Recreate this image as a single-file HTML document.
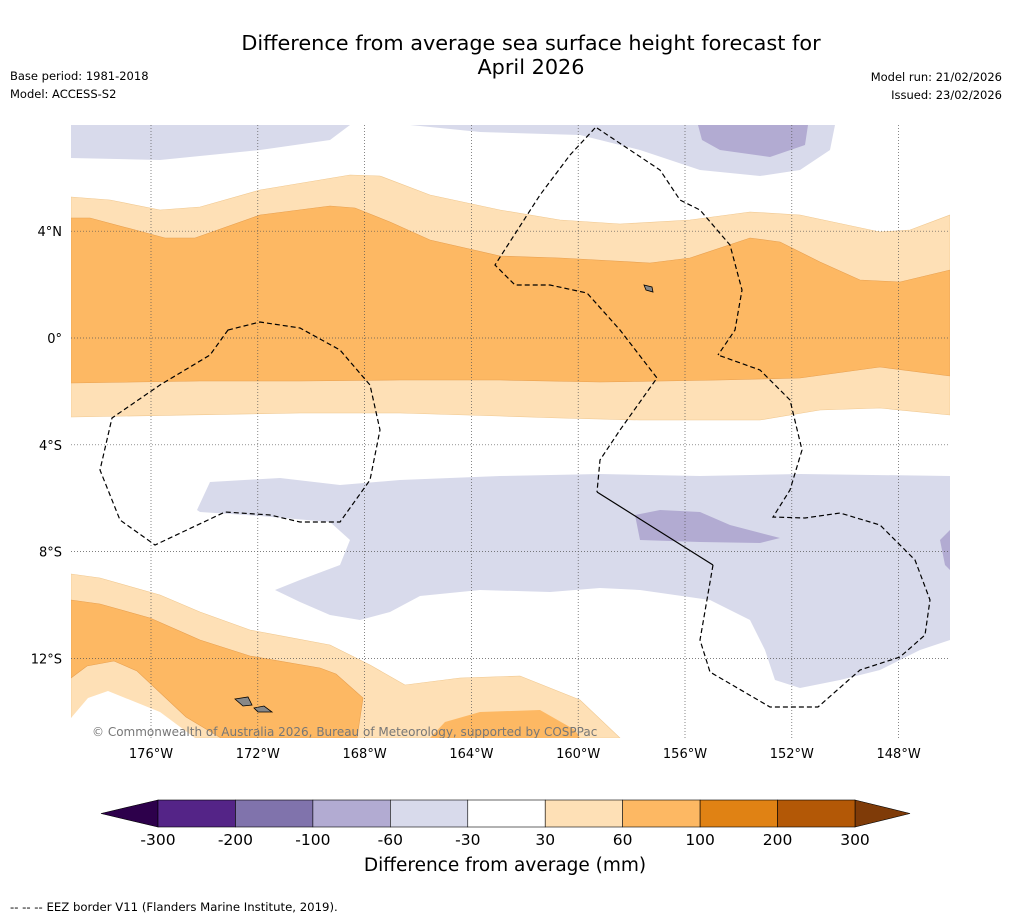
<!DOCTYPE html>
<html><head><meta charset="utf-8">
<style>
body{margin:0;background:#fff;}
svg{display:block;font-family:"DejaVu Sans","Liberation Sans",sans-serif;}
</style></head>
<body>
<svg id="chart" width="1011" height="919" viewBox="0 0 1011 919" xmlns="http://www.w3.org/2000/svg">
<rect width="1011" height="919" fill="#fff"/>
<text x="531" y="50" font-size="20.8" text-anchor="middle">Difference from average sea surface height forecast for</text>
<text x="531" y="74" font-size="20.8" text-anchor="middle">April 2026</text>
<text x="10" y="80" font-size="11.5">Base period: 1981-2018</text>
<text x="10" y="98" font-size="11.5">Model: ACCESS-S2</text>
<text x="1002" y="81" font-size="11.5" text-anchor="end">Model run: 21/02/2026</text>
<text x="1002" y="99" font-size="11.5" text-anchor="end">Issued: 23/02/2026</text>

<defs><clipPath id="mapclip"><rect x="71" y="125" width="879" height="613"/></clipPath></defs>
<g clip-path="url(#mapclip)">
<rect x="71" y="125" width="879" height="613" fill="#fff"/>
<path fill="#d8daeb" d="M71,125 L350,125 L330,140 L260,150 L160,160 L71,158 Z"/>
<path fill="#d8daeb" d="M410,125 L835,125 L830,150 L800,170 L760,176 L700,170 L640,150 L580,135 L480,132 Z"/>
<path fill="#b2abd2" d="M698,125 L808,125 L805,145 L770,157 L720,150 L702,140 Z"/>
<path fill="#fee0b6" stroke="#f0c890" stroke-width="0.6" d="M71,197 L110,200 L160,210 L200,207 L260,190 L350,175 L380,176 L430,195 L500,210 L560,220 L620,224 L690,220 L750,212 L800,215 L880,232 L910,230 L950,215 L950,415 L880,408 L820,410 L760,420 L700,420 L640,420 L560,418 L500,416 L400,413 L300,413 L71,417 Z"/>
<path fill="#fdb863" stroke="#e8a050" stroke-width="0.6" d="M71,218 L90,218 L165,238 L195,238 L260,215 L330,206 L355,208 L390,222 L430,240 L500,256 L560,258 L650,263 L690,258 L750,238 L780,242 L820,262 L860,280 L900,282 L950,270 L950,376 L880,367 L800,378 L720,380 L600,382 L500,380 L400,380 L300,381 L200,381 L71,383 Z"/>
<path fill="#d8daeb" d="M197,510 L210,482 L280,478 L340,485 L400,480 L500,476 L600,474 L700,476 L800,474 L950,476 L950,640 L920,650 L880,670 L840,680 L800,688 L775,680 L765,650 L750,620 L710,600 L640,590 L600,588 L550,592 L480,590 L420,596 L390,612 L360,620 L330,615 L300,602 L275,590 L300,580 L340,565 L350,540 L330,522 L260,516 L200,512 Z"/>
<path fill="#b2abd2" d="M635,515 L660,510 L700,512 L730,525 L780,538 L760,543 L700,542 L640,540 Z"/>
<path fill="#b2abd2" d="M940,540 L950,530 L950,570 L945,565 Z"/>
<path fill="#fee0b6" stroke="#f0c890" stroke-width="0.6" d="M71,574 L100,578 L160,595 L200,612 L250,630 L330,645 L370,665 L405,685 L460,678 L520,676 L580,700 L620,738 L71,738 Z"/>
<path fill="#fdb863" stroke="#e8a050" stroke-width="0.6" d="M71,600 L100,604 L150,618 L200,640 L250,656 L320,668 L336,674 L363,698 L357,738 L221,738 L186,717 L137,671 L114,661 L87,666 L71,678 Z"/>
<path fill="#fff" d="M71,738 L71,718 L88,698 L108,691 L160,712 L195,738 Z"/>
<path fill="#fdb863" d="M430,738 L445,722 L480,712 L540,710 L575,730 L580,738 Z"/>
<g fill="#888" stroke="#000" stroke-width="0.8">
<path d="M235,699 L248,697 L252,705 L243,706 Z"/>
<path d="M254,708 L264,706 L272,712 L258,712 Z"/>
<path d="M644,285 L652,287 L653,292 L646,290 Z"/>
</g>
<g stroke="#555" stroke-width="0.7" stroke-dasharray="1,2" id="grid"></g>
<g fill="none" stroke="#000" stroke-width="1.2">
<path stroke-dasharray="5,3" d="M228,330 L260,322 L300,328 L340,350 L370,385 L380,430 L370,480 L340,522 L300,522 L270,515 L225,512 L155,545 L120,520 L100,470 L112,418 L160,385 L210,355 Z"/>
<path stroke-dasharray="5,3" d="M597,128 L630,150 L660,170 L680,200 L700,210 L730,245 L742,290 L735,330 L718,355"/>
<path stroke-dasharray="5,3" d="M595,128 L570,155 L540,195 L495,265 L515,285 L550,285 L587,293 L620,330 L657,378 L620,430 L600,460 L597,492"/>
<path d="M597,492 L713,565"/>
<path stroke-dasharray="5,3" d="M713,565 L700,640 L710,672 L770,707 L818,707 L860,670 L900,657 L925,635 L930,600 L915,560 L880,525 L840,513 L805,518 L773,517 L790,490 L802,450 L790,400 L760,370 L718,355"/>
</g>
<text x="92" y="736" font-size="12" fill="#777">© Commonwealth of Australia 2026, Bureau of Meteorology, supported by COSPPac</text>
</g>
<g id="axes"></g>
<g id="colorbar"></g>
<text x="505" y="871" font-size="18.5" text-anchor="middle">Difference from average (mm)</text>
<text x="10" y="911" font-size="11.7">--  --  -- EEZ border V11 (Flanders Marine Institute, 2019).</text>
</svg>
<script>
const lonTicks = [-176, -172, -168, -164, -160, -156, -152, -148];
const latTicks = [4, 0, -4, -8, -12];
const levelLabels = ['-300','-200','-100','-60','-30','30','60','100','200','300'];
const levelColors = ['#542487','#8073ac','#b2abd2','#d8daeb','#ffffff','#fee0b6','#fdb863','#e08214','#b35806'];
const extendColors = ['#2d004b','#7f3b08'];
const NS='http://www.w3.org/2000/svg';
function xLon(l){return 151+(l+176)*26.7;}
function yLat(l){return 338-l*26.7;}
function mk(t,a,p){const e=document.createElementNS(NS,t);for(const k in a)e.setAttribute(k,a[k]);p.appendChild(e);return e;}
const grid=document.getElementById('grid'), axes=document.getElementById('axes');
lonTicks.forEach(l=>{
  const x=xLon(l);
  const g=mk('line',{x1:x,y1:125,x2:x,y2:738},grid);
  
  
  const t=mk('text',{x:x,y:758,'font-size':13,'text-anchor':'middle'},axes);
  t.textContent=Math.abs(l)+'°W';
  
  
});
latTicks.forEach(l=>{
  const y=yLat(l);
  const g=mk('line',{x1:71,y1:y,x2:950,y2:y},grid);
  
  
  const t=mk('text',{x:62,y:y+5,'font-size':13,'text-anchor':'end'},axes);
  t.textContent=l===0?'0°':Math.abs(l)+'°'+(l>0?'N':'S');
  
  
});
const cb=document.getElementById('colorbar');
const x0=158,x1=855,cy0=800,cy1=827,w=(x1-x0)/levelColors.length;
const lt=mk('path',{d:`M${x0},${cy0} L101,${(cy0+cy1)/2} L${x0},${cy1} Z`,fill:extendColors[0],stroke:'#000','stroke-width':0.6},cb);


const rt=mk('path',{d:`M${x1},${cy0} L910,${(cy0+cy1)/2} L${x1},${cy1} Z`,fill:extendColors[1],stroke:'#000','stroke-width':0.6},cb);


levelColors.forEach((c,i)=>{
  const r=mk('rect',{x:x0+i*w,y:cy0,width:w,height:cy1-cy0,fill:c,stroke:'#000','stroke-width':0.6},cb);
  
  
});
levelLabels.forEach((s,i)=>{
  const t=mk('text',{x:x0+i*w,y:845,'font-size':15.5,'text-anchor':'middle'},cb);
  t.textContent=s;
  
  
});
</script>
</body></html>
